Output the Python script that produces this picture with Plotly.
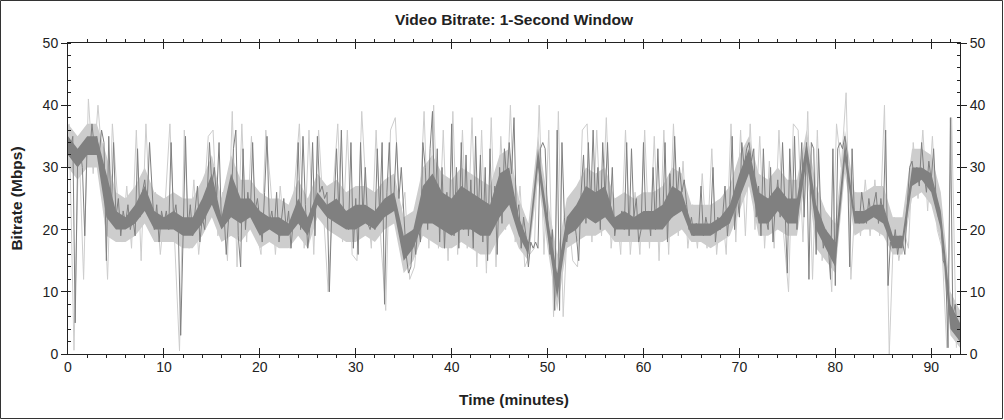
import plotly.graph_objects as go

# Time step of the sampled series (minutes)
STEP_DARK = 0.25
STEP_LIGHT = 0.5
LIGHT_OFFSET = 0.125
STEP_BAND = 1.0

# Main (dark) bitrate series, Mbps, sampled every 0.25 min (4 values per minute)
bitrate = [
    34, 33, 35, 5,     31, 33, 30, 19,    34, 32, 37, 33,    35, 32, 36, 34,
    15, 35, 22, 34,    22, 25, 19, 23,    21, 24, 20, 22,    19, 33, 22, 26,
    28, 24, 34, 26,    20, 24, 18, 23,    21, 23, 20, 34,    22, 24, 20, 3,
    22, 35, 20, 24,    19, 23, 27, 18,    22, 20, 25, 34,    27, 30, 25, 34,
    21, 23, 16, 22,    24, 33, 36, 19,    14, 33, 20, 26,    22, 34, 23, 25,
    21, 18, 26, 35,    21, 23, 20, 26,    18, 22, 25, 20,    23, 17, 22, 21,
    34, 20, 35, 24,    17, 21, 34, 19,    35, 26, 27, 25,    26, 10, 23, 24,
    33, 22, 36, 21,    23, 20, 34, 17,    25, 16, 34, 22,    30, 21, 20, 22,
    20, 33, 22, 34,    8, 26, 34, 23,     26, 34, 25, 30,    22, 16, 13, 14,
    20, 16, 21, 18,    34, 30, 20, 33,    39, 22, 33, 18,    30, 17, 26, 20,
    37, 19, 30, 17,    34, 20, 32, 19,    28, 17, 35, 21,    32, 18, 30, 15,
    33, 20, 27, 16,    30, 21, 33, 28,    34, 29, 38, 22,    24, 17, 22, 19,
    14, 18, 17, 18,    17, 33, 34, 33,    22, 16, 20, 7,     36, 7, 34, 22,
    18, 21, 20, 22,    19, 15, 26, 32,    21, 34, 24, 36,    23, 30, 20, 34,
    25, 34, 22, 30,    19, 22, 21, 23,    20, 34, 19, 33,    22, 25, 18, 20,
    34, 21, 23, 19,    30, 20, 33, 22,    21, 34, 18, 29,    22, 35, 25, 30,
    26, 28, 24, 20,    22, 19, 21, 20,    27, 19, 22, 20,    21, 30, 18, 22,
    20, 22, 27, 19,    24, 35, 20, 26,    22, 34, 30, 33,    34, 31, 33, 22,
    27, 19, 33, 22,    20, 30, 18, 24,    28, 22, 34, 24,    13, 33, 22, 35,
    20, 26, 34, 22,    34, 12, 34, 33,    16, 33, 22, 17,    20, 18, 12, 33,
    11, 33, 34, 33,    35, 32, 14, 33,    22, 23, 21, 26,    23, 21, 25, 22,
    24, 26, 21, 25,    22, 36, 11, 18,    17, 20, 16, 19,    18, 16, 24, 30,
    31, 28, 30, 27,    34, 29, 26, 31,    28, 33, 25, 22,    21, 15, 14, 1,
    38, 6, 8, 3,       2,
]

# Light grey extremes, sampled every 0.5 min
bitrate_peaks = [
    37, 0.6,  35, 12,  41, 29,  40, 30,  12, 37,  26, 18,  27, 17,  36, 15,
    37, 20,  26, 16,  24, 37,  18, 0.5,  36, 17,  28, 16,  24, 35,  36, 19,
    26, 15,  39, 14,  37, 18,  35, 20,  16, 36,  27, 16,  27, 18,  17, 27,
    37, 17,  36, 16,  36, 23,  10, 26,  37, 18,  36, 16,  15, 39,  25, 17,
    36, 18,  7, 36,  38, 22,  26, 12,  14, 22,  39, 17,  40, 17,  36, 15,
    39, 16,  36, 17,  38, 14,  36, 13,  38, 14,  35, 20,  40, 18,  27, 14,
    16, 17,  40, 16,  36, 6,  39, 6,  23, 15,  14, 36,  37, 18,  36, 19,
    38, 17,  25, 16,  36, 16,  26, 16,  36, 17,  35, 15,  36, 16,  37, 19,
    31, 17,  24, 17,  29, 17,  33, 16,  25, 16,  37, 18,  36, 19,  37, 20,
    35, 17,  31, 17,  36, 19,  10, 37,  36, 18,  39, 12,  36, 15,  22, 10,
    37, 30,  42, 12,  26, 19,  28, 19,  28, 19,  40, 0,  22, 15,  20, 17,
    34, 25,  36, 23,  35, 20,  17, 1,  38, 1,
]

# Dense dark core of the trace, per minute (lower / upper edge, Mbps)
core_low = [
    32, 30, 32, 32, 22, 20, 20, 21, 23, 20, 20, 20, 19, 19, 21, 24,
    20, 22, 21, 22, 19, 20, 19, 19, 21, 19, 24, 22, 21, 20, 20, 21,
    20, 22, 23, 15, 17, 21, 21, 20, 19, 20, 20, 19, 19, 22, 24, 19,
    16, 30, 19, 9, 19, 20, 22, 21, 22, 20, 20, 20, 20, 20, 20, 22,
    23, 19, 19, 19, 20, 21, 25, 29, 21, 21, 23, 21, 21, 31, 20, 17,
    14, 31, 21, 21, 22, 21, 17, 17, 27, 28, 26, 20, 4, 2,
]
core_high = [
    35, 33, 35, 35, 29, 23, 22, 24, 27, 23, 22, 23, 22, 22, 25, 29,
    22, 29, 25, 25, 23, 22, 22, 21, 25, 22, 26, 24, 25, 23, 24, 24,
    23, 25, 26, 19, 20, 27, 29, 26, 25, 27, 26, 25, 24, 29, 30, 22,
    18, 33, 22, 13, 22, 24, 27, 26, 27, 22, 23, 22, 23, 23, 24, 27,
    26, 21, 21, 21, 22, 24, 29, 33, 26, 25, 27, 25, 25, 34, 24, 20,
    18, 34, 23, 23, 24, 24, 19, 19, 30, 30, 29, 23, 8, 5,
]

# Light grey halo around the core, per minute (lower / upper edge, Mbps)
halo_low = [
    30, 28, 30, 30, 19, 18, 18, 19, 21, 18, 18, 18, 17, 17, 19, 22,
    18, 19, 18, 20, 17, 18, 17, 17, 19, 17, 22, 20, 19, 18, 18, 19,
    18, 20, 21, 13, 15, 19, 18, 17, 17, 18, 17, 16, 16, 19, 21, 17,
    15, 28, 17, 7, 17, 18, 19, 19, 20, 18, 18, 18, 18, 18, 18, 19,
    20, 18, 18, 17, 18, 19, 23, 27, 19, 19, 20, 19, 19, 29, 17, 15,
    13, 29, 19, 20, 20, 19, 16, 16, 25, 26, 24, 18, 3, 1,
]
halo_high = [
    37, 35, 37, 37, 32, 26, 25, 27, 30, 26, 25, 26, 25, 25, 28, 32,
    25, 32, 28, 28, 26, 25, 25, 24, 28, 25, 29, 27, 28, 26, 27, 27,
    26, 28, 29, 22, 23, 30, 32, 29, 28, 30, 29, 28, 27, 32, 33, 25,
    21, 35, 25, 16, 25, 27, 30, 29, 30, 25, 26, 25, 26, 26, 27, 30,
    29, 24, 24, 24, 25, 27, 32, 35, 29, 28, 30, 28, 28, 36, 27, 23,
    21, 36, 26, 26, 27, 27, 22, 22, 33, 33, 32, 26, 10, 7,
]

x_ticks = [0, 10, 20, 30, 40, 50, 60, 70, 80, 90]
y_ticks = [0, 10, 20, 30, 40, 50]

t_dark = [i * STEP_DARK for i in range(len(bitrate))]
t_light = [i * STEP_LIGHT + LIGHT_OFFSET for i in range(len(bitrate_peaks))]
t_band = [i * STEP_BAND for i in range(len(core_low))]

W, H = 1004, 420
ML, MR, MT, MB = 68, 44, 43, 66
PW, PH = W - ML - MR, H - MT - MB

DARK = "#808080"
LIGHT = "#cdcdcd"

fig = go.Figure()
# light halo band
fig.add_trace(go.Scatter(x=t_band, y=halo_low, mode="lines", line=dict(width=0, color=LIGHT),
                         hoverinfo="skip", yaxis="y"))
fig.add_trace(go.Scatter(x=t_band, y=halo_high, mode="lines", line=dict(width=0, color=LIGHT),
                         fill="tonexty", fillcolor=LIGHT, hoverinfo="skip", yaxis="y"))
# light extremes
fig.add_trace(go.Scatter(x=t_light, y=bitrate_peaks, mode="lines",
                         line=dict(color=LIGHT, width=1), hoverinfo="skip", yaxis="y"))
# dark core band
fig.add_trace(go.Scatter(x=t_band, y=core_low, mode="lines", line=dict(width=0, color=DARK),
                         hoverinfo="skip", yaxis="y"))
fig.add_trace(go.Scatter(x=t_band, y=core_high, mode="lines", line=dict(width=0, color=DARK),
                         fill="tonexty", fillcolor=DARK, hoverinfo="skip", yaxis="y"))
# dark bitrate trace
fig.add_trace(go.Scatter(x=t_dark, y=bitrate, mode="lines",
                         line=dict(color=DARK, width=1), yaxis="y2"))

font_family = "Liberation Sans, Arial, sans-serif"
tickfont = dict(family=font_family, size=14, color="#222222")
titlefont = dict(family=font_family, size=15.5, color="#222222")

fig.update_layout(
    width=W, height=H,
    margin=dict(l=ML, r=MR, t=MT, b=MB, pad=0, autoexpand=False),
    paper_bgcolor="white", plot_bgcolor="white",
    showlegend=False,
    title=dict(text="<b>Video Bitrate: 1-Second Window</b>",
               font=titlefont,
               x=(ML + PW / 2) / W, xanchor="center", y=1 - 20 / H, yanchor="middle",
               automargin=False),
    xaxis=dict(
        range=[0, 93], tickvals=x_ticks, ticktext=[str(v) for v in x_ticks],
        ticks="inside", ticklen=6, tickcolor="#222222", tickwidth=1,
        minor=dict(dtick=2, tick0=0, ticks="outside", ticklen=3, tickcolor="#222222", showgrid=False),
        showline=True, linecolor="#222222", linewidth=1, mirror="ticks",
        showgrid=False, zeroline=False, tickfont=tickfont, automargin=False,
        title=dict(text="<b>Time (minutes)</b>", font=titlefont, standoff=20),
    ),
    yaxis=dict(
        range=[0, 50], tickvals=y_ticks, ticktext=[str(v) for v in y_ticks],
        ticks="outside", ticklen=6, tickcolor="#222222",
        minor=dict(dtick=2, tick0=0, ticks="inside", ticklen=3, tickcolor="#222222", showgrid=False),
        showline=True, linecolor="#222222", linewidth=1, mirror=False,
        showgrid=False, zeroline=False, tickfont=tickfont, automargin=False,
        title=dict(text="<b>Bitrate (Mbps)</b>", font=titlefont, standoff=16),
    ),
    yaxis2=dict(
        range=[0, 50], tickvals=y_ticks, ticktext=[str(v) for v in y_ticks],
        overlaying="y", side="right", anchor="x",
        ticks="outside", ticklen=6, tickcolor="#222222",
        minor=dict(dtick=2, tick0=0, ticks="inside", ticklen=3, tickcolor="#222222", showgrid=False),
        showline=True, linecolor="#222222", linewidth=1,
        showgrid=False, zeroline=False, tickfont=tickfont, automargin=False,
    ),
    shapes=[dict(
        type="rect", xref="paper", yref="paper",
        x0=(0.5 - ML) / PW, x1=(W - 1.5 - ML) / PW,
        y0=-(MB - 1.5) / PH, y1=1 + (MT - 0.5) / PH,
        line=dict(color="#333333", width=1), fillcolor="rgba(0,0,0,0)", layer="above")],
)

fig.write_html("out.html", config={"displayModeBar": False},
               post_script="document.body.style.margin='0';document.body.style.padding='0';")
